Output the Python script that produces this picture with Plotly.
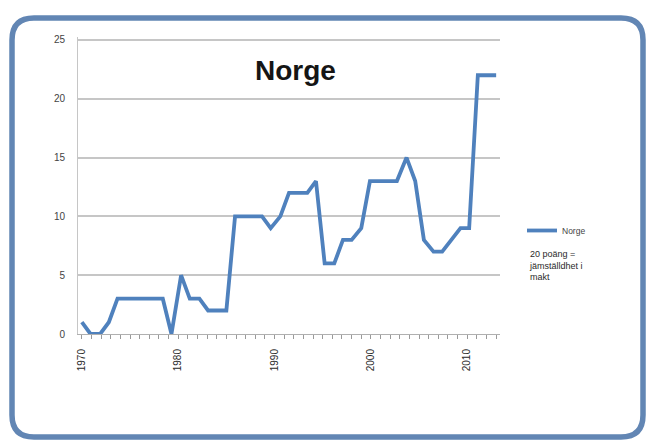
import plotly.graph_objects as go

# Index points for Norway (20 points = gender equality in power)
years = [1970.0, 1970.9, 1971.9, 1972.8, 1973.7, 1974.7, 1975.6, 1976.5, 1977.5, 1978.4,
         1979.3, 1980.3, 1981.2, 1982.2, 1983.1, 1984.0, 1985.0, 1985.9, 1986.8, 1987.8,
         1988.7, 1989.6, 1990.6, 1991.5, 1992.4, 1993.4, 1994.3, 1995.2, 1996.2, 1997.1,
         1998.0, 1999.0, 1999.9, 2000.8, 2001.8, 2002.7, 2003.7, 2004.6, 2005.5, 2006.5,
         2007.4, 2008.3, 2009.3, 2010.2, 2011.1, 2012.1, 2013.0]
norge = [1, 0, 0, 1, 3, 3, 3, 3, 3, 3,
         0, 5, 3, 3, 2, 2, 2, 10, 10, 10,
         10, 9, 10, 12, 12, 12, 13, 6, 6, 8,
         8, 9, 13, 13, 13, 13, 15, 13, 8, 7,
         7, 8, 9, 9, 22, 22, 22]

x_ticks = [1970, 1980, 1990, 2000, 2010]
x_tick_labels = ["1970", "1980", "1990", "2000", "2010"]
y_ticks = [0, 5, 10, 15, 20, 25]

W, H = 655, 445
L, R, T, B = 78, 155, 37, 111
PW, PH = W - L - R, H - T - B


def px(x):
    return (x - L) / PW


def py(y):
    return (H - B - y) / PH


fig = go.Figure()
fig.add_trace(go.Scatter(
    x=years, y=norge, mode="lines", name="Norge",
    line=dict(color="#4f81bd", width=3.8),
))

# rounded frame around the whole chart
x0, x1, y0, y1, r = 12, 643, 18, 437, 22
rx, ry = r / PW, r / PH
X0, X1, Y0, Y1 = px(x0), px(x1), py(y1), py(y0)
path = (f"M {X0+rx},{Y1} L {X1-rx},{Y1} Q {X1},{Y1} {X1},{Y1-ry} "
        f"L {X1},{Y0+ry} Q {X1},{Y0} {X1-rx},{Y0} L {X0+rx},{Y0} "
        f"Q {X0},{Y0} {X0},{Y0+ry} L {X0},{Y1-ry} Q {X0},{Y1} {X0+rx},{Y1} Z")
fig.add_shape(type="path", path=path, xref="paper", yref="paper",
              line=dict(color="#6286b4", width=5.5), layer="below")

fig.add_annotation(text="<b>Norge</b>", xref="paper", yref="paper",
                   x=px(295), y=py(70), xanchor="center", yanchor="middle",
                   showarrow=False,
                   font=dict(family="Liberation Sans, Arial", size=28, color="#151515"))

fig.add_annotation(text="20 poäng =<br>jämställdhet i<br>makt", xref="paper", yref="paper",
                   x=px(527), y=py(247), xanchor="left", yanchor="top", align="left",
                   showarrow=False,
                   font=dict(family="Liberation Sans, Arial", size=9, color="#2a2a2a"))

fig.update_layout(
    width=W, height=H,
    margin=dict(l=L, r=R, t=T, b=B),
    paper_bgcolor="white", plot_bgcolor="white",
    showlegend=True,
    legend=dict(x=px(522), y=py(216), xanchor="left", yanchor="top",
                font=dict(family="Liberation Sans, Arial", size=8.5, color="#444444"),
                bgcolor="rgba(0,0,0,0)", itemwidth=30, tracegroupgap=0),
    xaxis=dict(
        range=[1969.6, 2013.4],
        tickmode="array", tickvals=x_ticks, ticktext=x_tick_labels,
        tickangle=-90, ticks="outside", ticklen=4, tickcolor="#9a9a9a",
        ticklabelstandoff=6,
        minor=dict(dtick=1, ticks="outside", ticklen=4, tickcolor="#9a9a9a"),
        showgrid=False, zeroline=False,
        showline=True, linecolor="#b0b0b0", linewidth=1,
        tickfont=dict(family="Liberation Sans, Arial", size=10, color="#2a2a2a"),
    ),
    yaxis=dict(
        range=[0, 25.25], tickvals=y_ticks,
        showgrid=True, gridcolor="#c6c6c6", gridwidth=2,
        zeroline=False, showline=True, linecolor="#c6c6c6", linewidth=1,
        ticks="", ticklabelstandoff=10,
        tickfont=dict(family="Liberation Sans, Arial", size=10, color="#444444"),
    ),
)

fig.write_html("out.html")
